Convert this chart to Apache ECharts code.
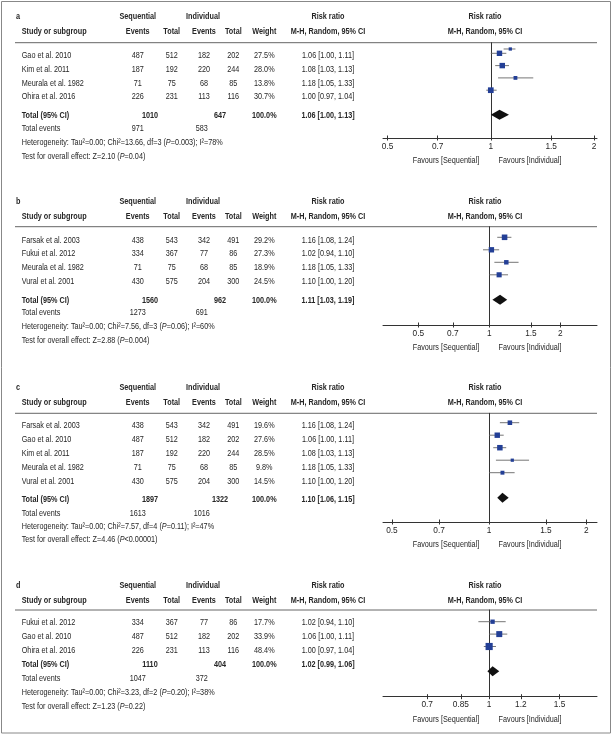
<!DOCTYPE html>
<html>
<head>
<meta charset="utf-8">
<script src="https://cdn.jsdelivr.net/npm/echarts@6/dist/echarts.min.js"></script>
<style>
html,body{margin:0;padding:0;background:#fff;}
#chart{width:612px;height:735px;}
</style>
</head>
<body>
<div id="chart"></div>
<script>
// ---------------- DATA ----------------
const aStudies   = ['Gao et al. 2010', 'Kim et al. 2011', 'Meurala et al. 1982', 'Ohira et al. 2016'];
const aSeqEvents = [487, 187, 71, 226];
const aSeqTotal  = [512, 192, 75, 231];
const aIndEvents = [182, 220, 68, 113];
const aIndTotal  = [202, 244, 85, 116];
const aWeight    = [27.5, 28.0, 13.8, 30.7];
const aRR        = [1.06, 1.08, 1.18, 1.00];
const aLo        = [1.00, 1.03, 1.05, 0.97];
const aHi        = [1.11, 1.13, 1.33, 1.04];
const aPooled    = {seqTotal: 1010, indTotal: 647, seqEvents: 971, indEvents: 583, rr: 1.06, lo: 1.00, hi: 1.13};
const aHet       = {tau: '0.00', chi: '13.66', df: 3, p: '=0.003', i2: '78%'};
const aTest      = {z: '2.10', p: '=0.04'};
// unlabelled stray marker visible above the first row of panel a
const aStray     = {rr: 1.14, lo: 1.09, hi: 1.18, weight: 10, row: -0.35};

const bStudies   = ['Farsak et al. 2003', 'Fukui et al. 2012', 'Meurala et al. 1982', 'Vural et al. 2001'];
const bSeqEvents = [438, 334, 71, 430];
const bSeqTotal  = [543, 367, 75, 575];
const bIndEvents = [342, 77, 68, 204];
const bIndTotal  = [491, 86, 85, 300];
const bWeight    = [29.2, 27.3, 18.9, 24.5];
const bRR        = [1.16, 1.02, 1.18, 1.10];
const bLo        = [1.08, 0.94, 1.05, 1.00];
const bHi        = [1.24, 1.10, 1.33, 1.20];
const bPooled    = {seqTotal: 1560, indTotal: 962, seqEvents: 1273, indEvents: 691, rr: 1.11, lo: 1.03, hi: 1.19};
const bHet       = {tau: '0.00', chi: '7.56', df: 3, p: '=0.06', i2: '60%'};
const bTest      = {z: '2.88', p: '=0.004'};

const cStudies   = ['Farsak et al. 2003', 'Gao et al. 2010', 'Kim et al. 2011', 'Meurala et al. 1982', 'Vural et al. 2001'];
const cSeqEvents = [438, 487, 187, 71, 430];
const cSeqTotal  = [543, 512, 192, 75, 575];
const cIndEvents = [342, 182, 220, 68, 204];
const cIndTotal  = [491, 202, 244, 85, 300];
const cWeight    = [19.6, 27.6, 28.5, 9.8, 14.5];
const cRR        = [1.16, 1.06, 1.08, 1.18, 1.10];
const cLo        = [1.08, 1.00, 1.03, 1.05, 1.00];
const cHi        = [1.24, 1.11, 1.13, 1.33, 1.20];
const cPooled    = {seqTotal: 1897, indTotal: 1322, seqEvents: 1613, indEvents: 1016, rr: 1.10, lo: 1.06, hi: 1.15};
const cHet       = {tau: '0.00', chi: '7.57', df: 4, p: '=0.11', i2: '47%'};
const cTest      = {z: '4.46', p: '<0.00001'};

const dStudies   = ['Fukui et al. 2012', 'Gao et al. 2010', 'Ohira et al. 2016'];
const dSeqEvents = [334, 487, 226];
const dSeqTotal  = [367, 512, 231];
const dIndEvents = [77, 182, 113];
const dIndTotal  = [86, 202, 116];
const dWeight    = [17.7, 33.9, 48.4];
const dRR        = [1.02, 1.06, 1.00];
const dLo        = [0.94, 1.00, 0.97];
const dHi        = [1.10, 1.11, 1.04];
const dPooled    = {seqTotal: 1110, indTotal: 404, seqEvents: 1047, indEvents: 372, rr: 1.02, lo: 0.99, hi: 1.06};
const dHet       = {tau: '0.00', chi: '3.23', df: 2, p: '=0.20', i2: '38%'};
const dTest      = {z: '1.23', p: '=0.22'};

const tickLabelsABC = [0.5, 0.7, 1, 1.5, 2];
const tickLabelsD   = [0.7, 0.85, 1, 1.2, 1.5];
const axisRangeA = [0.485, 2.04];
const axisRangeB = [0.354, 2.86];
const axisRangeC = [0.469, 2.16];
const axisRangeD = [0.543, 1.86];

// ---------------- LAYOUT ----------------
const layouts = [
  {h1: 16.7,  h2: 31.7,  rule: 42.7,  r0: 55.7,  step: 13.67, total: 115.7, te: 128.3, het: 142.7, test: 156.7, m0: 53.3,  msp: 12.3, axis: 138.0},
  {h1: 201.7, h2: 216.7, rule: 226.7, r0: 240.0, step: 13.9,  total: 300.0, te: 312.7, het: 326.7, test: 340.7, m0: 237.3, msp: 12.5, axis: 325.0},
  {h1: 387.7, h2: 402.3, rule: 413.3, r0: 425.0, step: 14.17, total: 499.0, te: 513.3, het: 526.7, test: 539.5, m0: 422.7, msp: 12.5, axis: 522.0},
  {h1: 585.7, h2: 600.0, rule: 610.0, r0: 622.7, step: 13.65, total: 664.3, te: 678.3, het: 692.3, test: 706.7, m0: 621.7, msp: 12.4, axis: 696.7}
];
const COL = {label: 16, study: 21.7, seqEv: 137.7, seqTot: 171.7, indEv: 204, indTot: 233.3, weight: 264.3,
             rr: 328, plot: 485, seqHead: 137.8, indHead: 203, totSeq: 150, totInd: 220, teSeq: 137.7, teInd: 201.7,
             favL: 446, favR: 530};
const PLOT_L = 383, PLOT_R = 597;
const TXT = '#262626';

// font choice: a narrow font if present, else Liberation Sans horizontally condensed
function fontAvailable(f) {
  const c = document.createElement('canvas').getContext('2d');
  const s = 'abcdefghijklmnopqrstuvwxyz ABCDEFGHIJ 0123456789';
  c.font = '20px monospace'; const w0 = c.measureText(s).width;
  c.font = '20px "' + f + '", monospace'; const w1 = c.measureText(s).width;
  return Math.abs(w1 - w0) > 0.5;
}
let FF = 'Liberation Sans';
for (const f of ['Liberation Sans Narrow', 'Liberation Sans']) { if (fontAvailable(f)) { FF = f; break; } }
const FS = 9.3;
let SX = 1;
(function () {
  const c = document.createElement('canvas').getContext('2d');
  c.font = FS + 'px "' + FF + '"';
  const w = c.measureText('Heterogeneity: Tau²=0.00; Chi²=13.66, df=3 (P=0.003); I²=78%').width;
  SX = Math.max(0.6, Math.min(1.1, 201 / w));
})();

const panels = [
  {label: 'a', studies: aStudies, seqEv: aSeqEvents, seqTot: aSeqTotal, indEv: aIndEvents, indTot: aIndTotal, w: aWeight, rr: aRR, lo: aLo, hi: aHi, pooled: aPooled, het: aHet, test: aTest, ticks: tickLabelsABC, range: axisRangeA, extra: [aStray]},
  {label: 'b', studies: bStudies, seqEv: bSeqEvents, seqTot: bSeqTotal, indEv: bIndEvents, indTot: bIndTotal, w: bWeight, rr: bRR, lo: bLo, hi: bHi, pooled: bPooled, het: bHet, test: bTest, ticks: tickLabelsABC, range: axisRangeB, extra: []},
  {label: 'c', studies: cStudies, seqEv: cSeqEvents, seqTot: cSeqTotal, indEv: cIndEvents, indTot: cIndTotal, w: cWeight, rr: cRR, lo: cLo, hi: cHi, pooled: cPooled, het: cHet, test: cTest, ticks: tickLabelsABC, range: axisRangeC, extra: []},
  {label: 'd', studies: dStudies, seqEv: dSeqEvents, seqTot: dSeqTotal, indEv: dIndEvents, indTot: dIndTotal, w: dWeight, rr: dRR, lo: dLo, hi: dHi, pooled: dPooled, het: dHet, test: dTest, ticks: tickLabelsD, range: axisRangeD, extra: []}
];

const f2 = v => v.toFixed(2);
const rrText = (r, l, h) => f2(r) + ' [' + f2(l) + ', ' + f2(h) + ']';

function txt(x, y, text, opt) {
  opt = opt || {};
  return {
    type: 'text', x: x, y: y, scaleX: SX, scaleY: 1, silent: true,
    style: {
      text: text, fill: TXT, fontFamily: FF, fontSize: FS,
      fontWeight: opt.bold ? 'bold' : 'normal',
      align: opt.align || 'center', verticalAlign: 'middle',
      textAlign: opt.align || 'center', textVerticalAlign: 'middle',
      rich: {i: {fontStyle: 'italic', fontFamily: FF, fontSize: FS, fill: TXT}}
    }
  };
}

const graphics = [];
graphics.push({type: 'rect', shape: {x: 1.5, y: 1.5, width: 609, height: 731.5}, style: {fill: 'none', stroke: '#888', lineWidth: 1}, silent: true});

const grids = [], xAxes = [], yAxes = [], series = [];

panels.forEach((p, k) => {
  const L = layouts[k];
  const n = p.studies.length;
  graphics.push(txt(COL.label, L.h1, p.label, {bold: true, align: 'left'}));
  graphics.push(txt(COL.seqHead, L.h1, 'Sequential', {bold: true}));
  graphics.push(txt(COL.indHead, L.h1, 'Individual', {bold: true}));
  graphics.push(txt(COL.rr, L.h1, 'Risk ratio', {bold: true}));
  graphics.push(txt(COL.plot, L.h1, 'Risk ratio', {bold: true}));
  graphics.push(txt(COL.study, L.h2, 'Study or subgroup', {bold: true, align: 'left'}));
  graphics.push(txt(COL.seqEv, L.h2, 'Events', {bold: true}));
  graphics.push(txt(COL.seqTot, L.h2, 'Total', {bold: true}));
  graphics.push(txt(COL.indEv, L.h2, 'Events', {bold: true}));
  graphics.push(txt(COL.indTot, L.h2, 'Total', {bold: true}));
  graphics.push(txt(COL.weight, L.h2, 'Weight', {bold: true}));
  graphics.push(txt(COL.rr, L.h2, 'M-H, Random, 95% CI', {bold: true}));
  graphics.push(txt(COL.plot, L.h2, 'M-H, Random, 95% CI', {bold: true}));
  graphics.push({type: 'line', silent: true, shape: {x1: 15, y1: L.rule, x2: PLOT_R, y2: L.rule}, style: {stroke: '#666', lineWidth: 1}});
  for (let i = 0; i < n; i++) {
    const y = L.r0 + i * L.step;
    graphics.push(txt(COL.study, y, p.studies[i], {align: 'left'}));
    graphics.push(txt(COL.seqEv, y, String(p.seqEv[i])));
    graphics.push(txt(COL.seqTot, y, String(p.seqTot[i])));
    graphics.push(txt(COL.indEv, y, String(p.indEv[i])));
    graphics.push(txt(COL.indTot, y, String(p.indTot[i])));
    graphics.push(txt(COL.weight, y, p.w[i].toFixed(1) + '%'));
    graphics.push(txt(COL.rr, y, rrText(p.rr[i], p.lo[i], p.hi[i])));
  }
  const P = p.pooled;
  graphics.push(txt(COL.study, L.total, 'Total (95% CI)', {bold: true, align: 'left'}));
  graphics.push(txt(COL.totSeq, L.total, String(P.seqTotal), {bold: true}));
  graphics.push(txt(COL.totInd, L.total, String(P.indTotal), {bold: true}));
  graphics.push(txt(COL.weight, L.total, '100.0%', {bold: true}));
  graphics.push(txt(COL.rr, L.total, rrText(P.rr, P.lo, P.hi), {bold: true}));
  graphics.push(txt(COL.study, L.te, 'Total events', {align: 'left'}));
  graphics.push(txt(COL.teSeq, L.te, String(P.seqEvents)));
  graphics.push(txt(COL.teInd, L.te, String(P.indEvents)));
  const H = p.het;
  graphics.push(txt(COL.study, L.het, 'Heterogeneity: Tau²=' + H.tau + '; Chi²=' + H.chi + ', df=' + H.df + ' ({i|P}' + H.p + '); I²=' + H.i2, {align: 'left'}));
  graphics.push(txt(COL.study, L.test, 'Test for overall effect: Z=' + p.test.z + ' ({i|P}' + p.test.p + ')', {align: 'left'}));
  graphics.push(txt(COL.favL, L.axis + 22.5, 'Favours [Sequential]'));
  graphics.push(txt(COL.favR, L.axis + 22.5, 'Favours [Individual]'));

  grids.push({left: PLOT_L, width: PLOT_R - PLOT_L, top: L.rule, height: L.axis - L.rule, outerBoundsMode: 'none', containLabel: false});
  const xmin = Math.log(p.range[0]), xmax = Math.log(p.range[1]);
  const tickVals = p.ticks.map(v => Math.log(v));
  const lab = v => { let best = p.ticks[0]; p.ticks.forEach(t => { if (Math.abs(Math.log(t) - v) < Math.abs(Math.log(best) - v)) best = t; }); return String(best); };
  xAxes.push({
    type: 'value', gridIndex: k, min: xmin, max: xmax, position: 'bottom',
    axisLine: {show: true, onZero: false, lineStyle: {color: '#333', width: 1}},
    axisTick: {show: true, length: 2.5, customValues: tickVals, lineStyle: {color: '#333'}},
    axisLabel: {show: true, customValues: tickVals, formatter: lab, margin: 4.5, color: TXT, fontFamily: FF, fontSize: 8.3},
    splitLine: {show: false}
  });
  xAxes.push({
    type: 'value', gridIndex: k, min: xmin, max: xmax, position: 'bottom',
    axisLine: {show: false, onZero: false},
    axisTick: {show: true, inside: true, length: 2.5, customValues: tickVals, lineStyle: {color: '#333'}},
    axisLabel: {show: false}, splitLine: {show: false}
  });
  const ymin = (L.rule - L.m0) / L.msp, ymax = (L.axis - L.m0) / L.msp;
  yAxes.push({
    type: 'value', gridIndex: k, inverse: true, min: ymin, max: ymax,
    axisLine: {show: true, onZero: true, lineStyle: {color: '#333', width: 1}},
    axisTick: {show: false}, axisLabel: {show: false}, splitLine: {show: false}
  });
  const studyData = [];
  for (let i = 0; i < n; i++) studyData.push([Math.log(p.lo[i]), Math.log(p.hi[i]), Math.log(p.rr[i]), i, p.w[i]]);
  p.extra.forEach(e => studyData.push([Math.log(e.lo), Math.log(e.hi), Math.log(e.rr), e.row, e.weight]));
  series.push({
    type: 'custom', xAxisIndex: 2 * k, yAxisIndex: k, silent: true, clip: false,
    encode: {x: [0, 1, 2], y: 3},
    data: studyData,
    renderItem: function (params, api) {
      const y = api.value(3);
      const a = api.coord([api.value(0), y]);
      const b = api.coord([api.value(1), y]);
      const c = api.coord([api.value(2), y]);
      const s = Math.sqrt(api.value(4)) * 1.03;
      return {type: 'group', children: [
        {type: 'line', shape: {x1: a[0], y1: a[1], x2: b[0], y2: b[1]}, style: {stroke: '#666', lineWidth: 0.9}},
        {type: 'rect', shape: {x: c[0] - s / 2, y: c[1] - s / 2, width: s, height: s}, style: {fill: '#233f96'}}
      ]};
    }
  });
  series.push({
    type: 'custom', xAxisIndex: 2 * k, yAxisIndex: k, silent: true, clip: false,
    encode: {x: [0, 1, 2], y: 3},
    data: [[Math.log(P.lo), Math.log(P.hi), Math.log(P.rr), n + 1]],
    renderItem: function (params, api) {
      const y = api.value(3);
      const a = api.coord([api.value(0), y]);
      const b = api.coord([api.value(1), y]);
      const c = api.coord([api.value(2), y]);
      const h = 5;
      return {type: 'polygon', shape: {points: [[a[0], a[1]], [c[0], c[1] - h], [b[0], b[1]], [c[0], c[1] + h]]}, style: {fill: '#111'}};
    }
  });
});

const chart = echarts.init(document.getElementById('chart'), null, {renderer: 'canvas'});
chart.setOption({
  animation: false,
  backgroundColor: '#fff',
  grid: grids, xAxis: xAxes, yAxis: yAxes, series: series,
  graphic: {elements: graphics}
});
</script>
</body>
</html>
